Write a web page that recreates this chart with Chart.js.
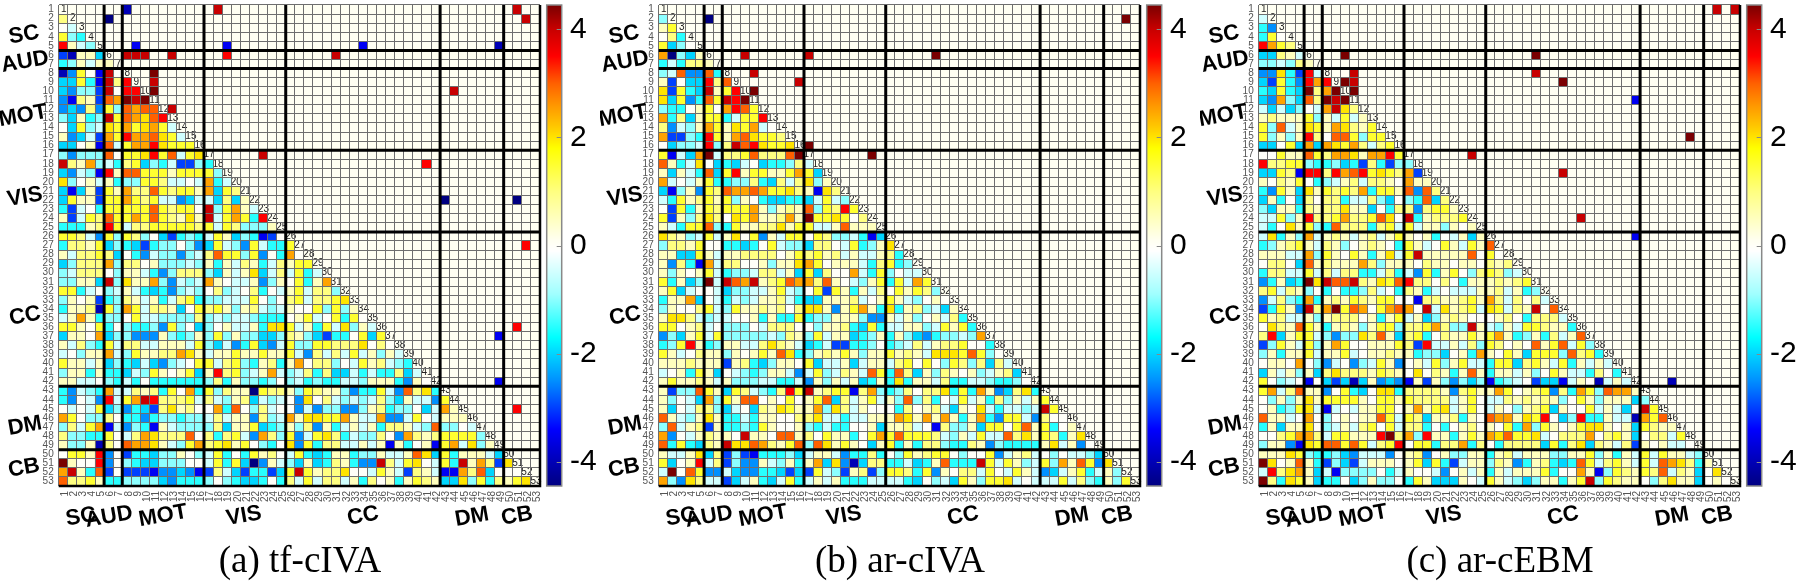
<!DOCTYPE html>
<html>
<head>
<meta charset="utf-8">
<title>Component correlation maps</title>
<script src="https://cdn.jsdelivr.net/npm/chart.js@4"></script>
<style>
  html, body { margin: 0; background: #fff; }
  canvas { position: absolute; top: 0; }
</style>
</head>
<body>
<canvas id="tfIva" width="600" height="581" style="left:0"></canvas>
<canvas id="arIva" width="600" height="581" style="left:600px"></canvas>
<canvas id="arEbm" width="600" height="581" style="left:1200px"></canvas>
<script>
// component numbers on both axes
var componentLabels = ["1","2","3","4","5","6","7","8","9","10","11","12","13","14","15","16","17","18","19","20","21","22","23","24","25","26","27","28","29","30","31","32","33","34","35","36","37","38","39","40","41","42","43","44","45","46","47","48","49","50","51","52","53"];
var colorbarTicks = [-4, -2, 0, 2, 4];
// a thick line follows each of these components
var groupBreaks = [5, 7, 16, 25, 42, 49];
var groupNames = ["SC", "AUD", "MOT", "VIS", "CC", "DM", "CB"];
var captions = ["(a) tf-cIVA", "(b) ar-cIVA", "(c) ar-cEBM"];

// lower triangle, row by row, in steps of 0.5
var tfIvaRows = [
[],
[2],
[0,-1],
[3,-2,-3],
[7,1,-1,-2],
[-6,-8,1,1,-4],
[-3,-2,1,-1,1,1],
[-8,-5,3,0,-7,8,0],
[-4,-4,3,-3,-7,8,2,7],
[-4,-5,-2,-2,-6,8,0,7,7],
[-5,-7,2,1,-6,6,5,9,8,9],
[-5,-4,-5,2,-5,3,-2,6,5,6,6],
[-2,-4,1,-3,-2,8,3,6,5,4,6,7],
[0,-4,3,-2,-1,4,3,5,3,4,5,3,-1],
[1,-5,-4,-1,-6,5,3,7,5,5,6,4,3,-1],
[-4,-4,0,1,-7,6,-1,3,5,5,7,4,3,3,3],
[-2,-5,-2,-2,-2,6,0,3,3,4,7,3,6,-1,3,4],
[8,2,1,5,-2,-1,-3,2,3,-4,-2,-3,-1,-6,-6,-2,-3],
[-4,-5,-1,-2,-7,7,1,6,6,3,3,3,1,3,3,3,3,-2],
[4,-2,0,1,-1,1,-3,-2,-2,3,3,2,-1,-1,0,-1,5,-3,-1],
[-4,-7,-4,1,-6,3,1,5,2,2,6,3,2,3,3,1,5,-4,3,2],
[-4,3,1,1,-6,3,3,5,3,2,3,-1,-1,-5,-4,-1,-1,-4,2,-4,1],
[-3,-6,-1,0,-3,3,3,3,3,3,6,3,2,3,3,0,8,-2,3,5,1,-1],
[1,-6,-1,3,2,6,3,3,5,3,6,3,2,1,4,1,8,-1,3,5,3,-3,7],
[-3,-3,-3,1,2,7,3,-1,2,2,3,3,3,3,3,2,3,-1,3,2,-2,-2,-2,1],
[3,3,2,-1,-5,3,-2,3,2,-2,0,-4,-6,-3,-2,-3,-1,3,1,-4,-2,-3,-7,-6,0],
[-3,2,2,1,3,-4,-2,-3,-4,-6,-3,-2,-2,0,-2,-5,-4,3,-1,-2,-5,3,-1,-3,-3,3],
[1,-1,2,2,3,2,-4,0,-3,-5,-1,-2,-2,-5,-2,-1,2,6,3,3,-2,3,-5,0,-3,5,0],
[-4,-2,2,2,2,5,-2,2,2,0,1,-2,-2,-2,-1,-2,1,-3,1,-1,2,1,-3,-1,2,1,3,3],
[-2,-1,2,2,2,0,-2,1,1,-1,-3,-5,-2,2,2,2,-2,-4,1,-1,1,4,-4,-1,2,-1,3,-3,-1],
[-2,-2,1,1,-4,8,-2,4,1,1,5,-2,-5,-1,-2,-1,5,1,0,-1,-1,1,-5,-2,1,0,3,-3,1,5],
[3,3,-3,-1,0,-2,-1,1,-1,-3,-4,-3,-5,-2,-1,-2,0,2,-2,-1,0,2,-3,0,-1,1,3,-1,2,2,-2],
[-2,1,0,1,-6,-3,-2,2,1,-1,1,-3,-1,2,3,-3,-2,-2,-1,-1,-1,3,0,-2,0,2,3,-1,2,2,3,4],
[-3,1,1,2,-8,3,-2,5,3,-1,2,2,1,-4,0,3,2,3,1,-2,1,2,-1,-2,-1,1,0,0,3,-2,3,-2,1],
[-1,1,5,1,-3,-2,-2,0,3,-1,-1,-2,-2,-2,-2,2,-2,-1,-2,-1,-1,-2,-3,-3,-3,0,1,3,-1,0,3,-3,3,0],
[3,3,1,0,3,-3,0,-2,-3,-3,-2,-5,3,-2,0,-4,-2,0,1,-1,-1,1,-3,4,4,3,-1,1,-3,3,-1,4,-2,1,-1],
[-4,1,1,0,5,-4,-2,-2,-5,-5,-5,1,-2,-3,-2,1,-2,3,-2,1,-2,-2,-4,-4,-2,2,1,-2,-4,-6,-3,-3,0,3,-4,3],
[1,-1,2,-2,-3,3,-1,2,2,-1,-1,1,1,1,-1,3,-2,-4,-1,-5,-3,3,-4,-5,-1,3,-2,-2,3,3,2,2,2,4,0,2,0],
[-1,0,-2,1,1,5,-1,-2,3,1,1,2,2,5,4,1,-1,1,1,3,1,1,3,1,1,3,-1,-5,2,-1,2,-1,3,-1,1,-2,1,-1],
[3,1,1,-1,1,-4,-2,-3,-4,-1,-4,-5,-2,-1,0,3,3,-1,2,3,-2,-3,1,2,-3,1,5,0,2,2,-2,0,-1,3,1,2,-1,-2,-3],
[-2,1,1,-3,1,-3,-3,-4,-1,-2,3,1,0,1,3,-4,1,7,2,3,-2,-1,1,5,-1,-2,-1,2,-3,2,-4,-4,-1,-3,-1,-3,-3,2,-4,-1],
[1,1,-1,-1,0,-2,-3,-1,-3,0,-3,-3,-3,-3,-3,-3,-2,2,-3,1,-2,-2,-3,-2,0,-2,-1,-3,-2,-3,-3,-1,-1,-2,1,1,1,-3,-5,1,0],
[-3,-5,-1,-2,-3,5,-1,-1,2,1,2,-3,3,0,5,-3,3,-2,2,1,1,-9,3,2,2,1,-2,3,2,1,1,-2,-5,-3,-3,3,-1,-5,6,2,4,-3],
[-3,-5,0,-1,-5,7,-1,3,5,8,7,2,2,2,3,-1,2,-1,-2,1,2,-4,-1,-2,-1,0,-5,4,0,2,-1,-2,-1,-2,-1,2,-2,-4,1,-1,-1,-5,3],
[0,-1,0,-1,3,-4,-2,-5,-3,-4,-6,2,4,1,2,0,0,5,-3,6,0,-2,2,-1,0,0,-5,-1,-5,-2,-2,-5,-5,-2,1,2,-3,-2,-2,0,-4,-1,5,1],
[5,3,0,-2,-2,2,0,-3,-3,-5,-3,-2,-2,-3,-2,-2,-1,2,-1,1,1,-5,2,-2,-1,5,1,4,4,3,3,5,1,-1,-1,5,-5,-5,-1,3,0,-1,1,1,1],
[-2,2,-1,3,5,-7,-1,-5,-2,-3,-7,1,-1,-2,-2,-2,-2,2,-4,1,1,3,-4,-3,-2,1,-2,2,-5,1,-3,-1,1,-1,1,-3,2,2,1,-1,-2,6,-2,-2,0,-1],
[2,-2,-2,-3,-3,3,0,-1,2,5,4,2,2,2,6,0,2,-3,2,3,-1,-5,5,2,-2,3,-5,-1,3,4,2,-3,-1,-2,-2,2,0,-5,5,2,1,2,3,3,3,3,-2],
[1,-2,-2,1,-8,2,0,6,5,5,4,1,-1,-2,3,5,2,3,4,1,3,0,-2,-3,0,4,-5,3,-3,2,2,-1,-1,1,-1,1,-7,1,-3,0,1,-7,3,5,-1,4,-2,1],
[0,3,3,1,7,-5,0,-6,-3,-3,-4,-2,-2,1,0,-2,-1,3,-3,0,-3,3,1,2,0,-1,3,-3,-4,-3,1,1,-3,-2,-2,1,-1,-1,1,6,4,-4,3,-3,1,1,1,-1,-4],
[9,1,0,0,7,-5,0,-2,-3,-4,-4,-2,-2,-2,0,0,-1,3,-3,3,-4,-9,-5,1,-1,-2,-4,1,-4,-3,2,1,-3,-5,-5,8,2,-1,3,4,0,-1,3,-3,8,1,5,2,-6,4],
[5,8,1,-3,6,-6,0,-6,-6,-6,-7,-5,-5,-4,-5,-7,-6,2,-1,-4,-6,-3,-3,-6,-4,3,8,3,1,2,2,4,0,0,-1,3,1,-1,-6,2,1,-1,-7,-7,5,2,6,-4,0,0,0],
[6,2,2,3,1,-3,-3,-2,-2,-2,-2,-4,-5,-3,-3,-3,-2,0,-2,-3,-4,-4,-3,0,-3,2,-1,3,-1,2,2,-1,1,-3,2,0,1,-3,1,3,2,1,-4,-4,4,-2,3,-3,2,1,3,4]
];
// significant cells above the diagonal: row, column, value in steps of 0.5
var tfIvaUpper = [[1,8,-8],[1,18,8],[1,51,8],[2,6,-9],[2,52,8],[5,9,-7],[5,19,-7],[5,34,-7],[5,49,-8],[6,8,8],[6,9,8],[6,10,8],[6,13,8],[6,19,7],[6,31,8],[8,11,9],[9,11,8],[10,11,9],[10,44,8],[12,13,8],[17,23,8],[18,41,7],[22,43,-9],[22,51,-9],[27,52,7],[36,51,7],[37,49,-7],[42,49,-7],[45,51,7]];

var arIvaRows = [
[],
[-2],
[1,3],
[0,2,-3],
[3,-4,-2,0],
[5,-9,-2,-4,1],
[-3,-1,-3,2,2,1],
[-2,-1,6,-5,-5,6,-3],
[1,-6,0,-4,-4,7,2,6],
[4,-6,3,-3,-4,8,1,3,7],
[4,-4,3,-5,-3,6,3,8,7,9],
[-2,-3,-3,0,1,3,0,5,7,6,3],
[5,-3,2,-4,1,3,3,-3,-1,3,3,7],
[2,-5,-1,-2,1,5,3,1,4,3,5,-1,0],
[5,-6,-6,-2,-3,7,3,1,5,6,4,3,3,2],
[0,-4,-2,-2,-1,7,-2,2,8,6,7,4,3,3,4],
[3,-7,-1,-4,5,9,-1,2,2,3,6,2,2,2,6,9],
[6,1,-3,-1,4,0,-4,-3,-4,-1,0,-4,-3,-3,-2,2,-1],
[1,-4,1,-1,-3,6,-4,3,7,1,3,3,1,1,3,5,3,-4],
[5,-1,0,-1,1,3,-3,-3,-2,-2,2,-3,-4,2,-1,2,4,-2,1],
[-4,-7,-2,1,-5,3,2,6,5,5,6,5,3,3,4,2,1,-7,4,2],
[-1,-3,3,1,2,3,1,3,-2,1,0,-3,-4,-4,-3,-3,-4,-1,3,-1,-2],
[0,-6,3,-3,1,3,2,3,3,3,5,1,-2,1,2,1,6,-2,3,2,7,3],
[3,-6,1,-2,2,4,2,0,4,3,5,1,1,2,5,1,9,3,3,4,3,0,2],
[1,-1,-3,3,3,6,-2,-3,3,1,1,2,2,4,1,3,3,-1,-1,1,6,1,1,1],
[4,2,1,-2,-1,3,-1,1,4,0,3,-5,1,-1,3,3,0,3,2,-2,-2,-1,-3,-7,-4],
[-2,2,2,1,3,0,0,-3,-3,-4,-3,0,3,-1,-2,-2,-4,2,2,0,-1,3,-3,-2,1,4],
[1,1,-4,-4,3,1,-1,1,1,2,2,2,2,0,1,3,2,3,1,2,-1,1,-1,-1,1,2,-3],
[1,-5,2,-3,-7,5,-1,2,2,0,0,1,-2,1,1,4,5,3,0,1,1,1,-1,-3,2,3,-3,-2],
[1,-2,1,0,1,3,-1,-3,-2,-2,-1,2,2,-1,1,-4,3,-4,2,0,0,5,-1,-3,3,-2,0,-1,-1],
[3,-3,1,-4,-2,9,-1,8,6,5,8,1,2,3,6,5,5,2,6,1,0,-1,-2,1,3,-3,3,-1,5,3],
[1,3,-4,-1,0,0,-1,-4,-2,-2,-1,-1,1,3,-1,-2,0,3,-6,3,1,-3,1,-1,2,0,3,1,3,2,-2],
[-3,1,1,5,-4,0,-1,-3,-1,-2,-1,1,1,2,-1,-3,-4,-4,1,1,1,2,-1,0,1,3,1,-1,-2,0,1,0],
[-2,1,0,0,2,3,-1,-2,3,1,1,2,1,2,0,2,4,4,1,-5,1,3,5,1,-3,4,-3,1,2,-2,-1,-4,1],
[1,4,4,2,-1,-2,-1,-1,0,0,1,-3,1,-3,-3,3,-3,-2,-2,1,1,1,-2,-5,-5,1,-1,1,-2,0,1,-1,2,-3],
[3,3,0,1,2,-1,0,-2,-2,-2,0,-1,2,2,2,0,0,-2,1,1,2,-3,-4,3,-3,-1,-1,1,1,-2,-1,3,1,3,-3],
[-5,-2,-4,1,3,-1,3,-2,-2,-2,-2,-2,-1,-2,2,1,-2,3,-1,1,1,-4,-3,-2,1,-3,1,-2,-4,-5,-3,-2,-2,-1,-2,5],
[-3,-2,3,7,1,-3,-2,1,1,-1,-1,2,4,2,1,-1,-4,-3,-1,-6,-6,-3,-3,-2,0,-3,-2,-1,2,-1,1,2,2,3,0,0,-3],
[3,1,-1,0,2,1,1,-2,1,0,1,3,1,6,4,-3,-2,1,2,1,3,1,-2,1,1,3,1,2,1,-1,4,4,4,3,6,3,-2,0],
[1,1,1,2,1,1,1,-6,1,2,-3,-4,-2,1,1,0,3,-4,-1,-1,1,-4,-1,1,1,-1,2,3,0,3,0,-2,3,2,-2,2,-4,2,-1],
[-1,0,1,-3,3,1,-4,0,-1,-2,-3,-2,1,1,-1,-5,-1,3,-2,-1,2,1,-1,6,3,-3,6,2,-4,1,-2,2,1,0,1,-2,-1,1,2,-4],
[1,3,1,1,2,1,-1,1,-2,-2,-2,-1,-1,-3,-3,-1,-5,1,-2,1,-1,1,-4,-3,1,-3,4,-3,1,1,-1,2,-3,-3,-1,-1,-2,-3,-3,-2,0],
[1,-6,-2,-2,6,3,1,-4,3,2,-1,-2,-3,2,7,3,8,1,2,3,3,-7,2,5,-2,-3,-2,2,0,2,2,4,-3,3,-3,5,1,-5,-4,2,4,-3],
[1,-2,0,-1,-4,5,-2,3,1,6,6,0,1,0,3,0,1,3,6,-4,2,-1,1,3,-1,1,-2,6,-2,2,-3,0,-1,3,-1,1,-3,2,-2,1,-1,1,3],
[1,-4,0,-1,2,2,-2,-4,-1,0,-4,2,1,4,3,1,1,5,-2,4,2,-1,1,0,0,0,-3,2,0,1,2,-1,-4,1,0,4,-1,-3,-1,-1,-2,-1,8,3],
[6,1,-1,-2,1,4,1,-3,-3,-1,-3,1,1,0,0,2,2,4,-1,-1,-3,-1,-1,1,1,1,5,4,1,5,1,5,1,-3,1,5,-3,-5,3,3,-1,-5,2,0,0],
[-2,6,-1,1,2,-6,1,-3,-3,-2,-3,3,1,0,0,1,-2,-3,-1,-3,-3,0,0,1,-4,1,1,2,-1,0,-7,2,-2,-2,1,-4,3,3,0,3,6,1,3,-3,0,1],
[5,-5,0,-1,1,2,1,1,0,8,1,1,0,6,6,1,2,0,3,1,1,-3,0,3,5,3,6,3,3,3,2,-1,-2,1,-1,3,-1,-1,6,2,4,1,3,2,-3,1,4],
[6,-3,3,-3,-4,2,1,8,4,4,6,5,2,1,3,6,-2,6,4,1,3,1,0,-4,1,3,-3,1,-3,2,2,-2,-3,-3,2,1,-5,-2,-3,-3,-3,-3,1,4,-1,1,-5,0],
[1,-1,-1,1,4,-4,2,-6,-2,-6,-7,-3,-3,-3,-2,-4,-1,1,1,-1,-5,-3,-3,2,-3,0,-2,3,1,2,3,3,0,-2,0,0,3,-5,-1,1,2,-1,0,-2,0,-1,-1,-2,-4],
[3,-4,0,1,7,-1,2,-6,-2,-5,-5,1,-1,-2,1,-3,1,5,-4,4,-5,-8,-4,2,2,-3,-3,-1,-4,-3,1,6,-3,-3,-3,8,3,-1,3,1,-2,-1,3,-2,5,1,6,3,-5,4],
[-1,9,0,6,3,-5,-5,-1,-4,-5,-5,-3,-3,-4,-6,-4,-6,3,-1,-2,-6,1,2,-6,-2,3,3,2,-3,3,-5,1,0,2,2,-1,3,0,-1,3,1,-1,-5,-4,-1,1,3,-3,-1,1,-2],
[5,-2,-5,4,2,-1,-1,-6,-4,-1,1,-3,-4,-1,3,-3,-1,1,-1,1,-3,-3,-3,-1,-1,-1,-1,-3,-4,0,-2,-1,-4,3,1,-2,3,3,4,-1,0,-1,-1,-1,3,-1,2,-2,-3,1,-2,3]
];
var arIvaUpper = [[2,6,-9],[2,52,9],[6,10,8],[6,17,8],[6,31,9],[8,11,8],[9,16,8],[10,11,9],[16,17,9],[17,24,9]];

var arEbmRows = [
[],
[-1],
[-3,-5],
[-3,3,0],
[7,5,3,2],
[-4,-4,2,1,-1],
[-2,-2,-1,-2,2,1],
[-5,-5,4,-3,-6,7,-1],
[-4,-6,3,-3,-5,7,5,7],
[-3,-4,3,-3,-4,9,2,5,9],
[-4,-5,5,-2,-4,6,2,9,8,9],
[-1,-4,-1,-4,-2,0,-1,5,8,4,2],
[1,2,1,1,1,3,-2,1,-1,3,-1,1],
[3,-2,6,-1,1,4,3,1,5,4,2,1,3],
[3,-2,1,-2,1,7,2,0,6,6,3,-2,3,3],
[-4,-4,0,3,-4,5,-4,5,4,3,5,2,-1,2,3],
[0,0,3,1,1,6,3,2,5,5,4,1,5,5,7,3],
[7,2,2,3,3,-2,-3,-3,-2,-4,-3,-6,2,-3,-6,-2,-2],
[-4,-4,3,2,-7,7,7,2,7,5,6,7,3,4,3,2,5,-6],
[1,0,2,1,3,0,-3,-2,-1,1,2,-1,2,2,1,0,5,1,1],
[-3,-5,3,1,-4,4,1,3,2,3,2,5,-3,3,3,1,6,-5,6,2],
[-4,1,-3,0,-4,2,0,2,2,-3,-1,-1,2,-2,-4,0,-2,-3,6,-4,2],
[-2,-4,1,1,-3,2,1,2,2,4,1,1,-4,0,-3,2,2,-5,2,3,3,1],
[-1,-1,3,-2,1,7,2,2,3,5,2,2,3,6,4,0,8,-3,1,2,2,2,3],
[-1,-3,0,4,1,3,-2,-3,6,2,2,2,-3,2,3,-1,3,-1,1,1,-2,1,0,1],
[-1,4,-3,1,-2,5,-1,1,2,1,-1,1,2,-1,1,3,1,0,1,-3,0,-1,1,-4,1],
[-3,-2,1,2,3,1,-1,2,1,-2,0,1,2,1,0,-3,3,1,-1,0,3,1,-1,3,1,6],
[1,1,1,-1,-1,5,-2,3,1,0,3,1,-3,1,4,-1,3,8,1,1,1,1,1,6,0,3,0],
[0,2,2,0,-4,6,1,2,1,1,1,5,2,-2,1,1,1,0,2,1,1,0,1,1,0,2,1,2],
[-3,2,2,-1,-1,3,-1,2,-1,2,2,-3,-3,-1,2,-3,-1,-5,3,-3,1,3,0,-2,2,3,2,-2,-1],
[-5,-3,1,-4,-3,9,4,8,6,6,8,2,1,4,3,6,7,2,2,0,2,0,-3,1,1,1,2,1,2,3],
[2,3,-1,2,1,-2,0,-3,0,-3,-3,-2,2,-1,0,-3,2,1,-3,-1,0,-1,-1,-1,1,1,2,-1,1,-3,-2],
[-5,-1,2,-2,-3,5,-3,1,2,1,3,2,1,3,3,0,0,-7,2,2,1,1,2,3,1,5,2,-1,2,0,2,-1],
[-6,-3,3,1,-5,8,2,5,9,3,6,5,0,3,5,6,5,0,8,-1,4,1,2,3,-1,4,3,-1,2,1,8,0,6],
[3,1,2,-1,-1,1,-2,1,2,2,2,0,1,-3,1,3,-1,1,-4,-2,1,2,1,0,0,0,1,2,0,-3,2,2,2,-1],
[0,4,2,1,6,3,1,-3,1,2,1,-2,1,3,3,-2,2,2,3,5,2,-2,-2,8,1,-1,-2,1,-1,3,3,2,1,1,-3],
[2,7,-4,1,3,3,-1,-2,-5,-2,-2,4,2,6,1,-4,2,3,-3,0,2,1,1,3,1,3,5,1,-3,-2,1,-3,2,-1,1,6],
[-6,-2,3,1,-1,3,-2,1,5,3,0,0,1,1,1,3,2,-6,7,-1,-1,1,-1,2,-2,3,2,0,1,0,6,1,3,6,-1,3,-2],
[-2,1,-3,1,1,3,-1,1,1,3,-1,0,1,1,2,1,1,-3,-2,-2,-4,0,1,-3,5,1,0,3,1,-4,3,3,3,-2,6,2,3,-3],
[0,1,1,0,5,0,-2,-5,-1,0,-5,-2,-1,3,1,-5,0,1,-1,3,-2,1,3,-1,-1,-3,3,3,-4,2,3,1,-1,3,-3,1,-1,1,-1],
[-4,1,-1,1,-2,1,-4,2,4,2,2,2,1,3,2,1,0,4,0,2,1,-3,1,6,1,-3,1,1,-1,1,-2,0,3,1,-1,-1,-3,2,0,-3],
[3,0,-2,-1,0,-7,0,-4,-6,-4,-8,-4,1,-5,-4,-5,-7,1,-6,1,-2,-5,-2,-4,-2,-7,-3,-2,-1,0,-6,-4,-4,-7,-1,1,0,-8,-1,1,-1],
[3,5,-1,2,6,1,1,-5,0,3,-3,-4,0,4,4,-3,2,2,2,2,1,-5,2,3,1,1,5,3,0,1,2,3,-5,2,-3,5,3,-2,6,5,5,1],
[0,-2,1,-2,1,4,1,3,3,3,3,1,0,3,3,1,3,2,2,2,2,-1,1,3,0,-1,-1,2,1,2,1,2,1,-2,0,3,1,-2,1,1,1,-4,-2],
[0,1,-3,-2,3,4,-1,-7,-1,0,-1,1,1,3,3,0,1,5,1,3,4,-1,1,3,0,-1,1,0,-2,1,2,3,-4,1,0,0,3,-1,1,-1,-4,0,8,3],
[6,1,1,-1,0,5,0,-2,0,1,0,1,1,6,3,-1,3,2,-4,1,1,2,-3,1,0,6,5,5,1,4,3,7,0,-4,-2,7,-3,-3,1,-1,-1,-8,5,3,6],
[-3,1,-4,1,1,4,0,-2,-1,1,-1,2,3,0,3,-1,2,2,-3,0,-3,0,1,2,0,1,0,3,-3,5,-2,3,1,0,1,3,4,4,1,0,1,-4,3,2,1,1],
[0,0,2,3,5,5,2,-1,3,3,1,1,1,7,9,2,5,-2,7,1,1,-3,1,3,1,5,4,6,3,3,4,-1,0,2,2,2,5,0,2,3,1,-4,0,2,2,-1,3],
[-2,1,1,-5,-7,4,3,6,6,3,6,3,-1,2,3,7,0,3,3,-3,2,2,5,-3,2,0,-3,2,2,2,2,-4,3,-3,2,4,-4,2,1,-1,2,-6,1,0,1,-1,-1,0],
[1,1,1,4,3,-2,-3,-3,-2,-4,-5,-1,-1,-1,-5,0,1,2,-5,0,1,-2,-2,1,1,-3,1,2,-1,1,1,1,-2,-2,1,1,3,-2,1,-3,1,-1,3,-1,3,1,1,-1,-2],
[9,4,0,1,6,1,-3,-6,-2,-4,-6,-1,1,1,1,0,1,3,-4,3,-3,-6,-1,1,1,-2,2,1,-5,-3,1,2,-3,-4,-3,6,3,-1,2,3,1,-1,3,-1,6,5,4,2,-3,1],
[-1,7,2,4,5,1,-4,-1,-7,-2,-2,-2,-2,0,-3,-1,1,0,0,-1,-5,0,1,-1,1,-3,1,-1,1,1,1,3,-3,0,0,5,1,-7,-2,3,2,1,3,2,6,-1,2,1,-4,0,4],
[9,2,-3,4,3,1,-4,-3,-3,0,-4,-2,1,-2,-2,0,-3,3,1,-4,-4,-4,1,0,-1,3,1,-1,-2,-4,-2,1,1,-3,1,3,8,-2,3,2,1,1,0,-2,2,4,1,1,-4,0,1,0]
];
var arEbmUpper = [[1,51,8],[1,53,8],[6,10,9],[6,31,9],[8,11,8],[8,31,8],[9,10,9],[9,11,8],[9,34,9],[10,11,9],[11,42,-7],[15,48,9],[17,24,8],[19,34,8],[24,36,8],[26,42,-7],[42,46,-8]];

// colour scale: value, r, g, b
var colorStops = [
    [-4.45, 0, 0, 128], [-3.4, 0, 0, 255], [-2.5, 0, 144, 255], [-1.7, 0, 255, 255],
    [-0.9, 160, 255, 255], [-0.1, 255, 255, 255], [0.1, 255, 255, 240], [1.0, 255, 255, 128],
    [1.8, 255, 255, 0], [2.2, 255, 200, 0], [2.6, 255, 150, 0], [3.0, 255, 96, 0],
    [3.5, 255, 0, 0], [4.0, 200, 0, 0], [4.45, 122, 0, 0]
];

function heatColor(v) {
    var last = colorStops.length - 1;
    if (v <= colorStops[0][0]) return "rgb(0,0,128)";
    if (v >= colorStops[last][0]) return "rgb(122,0,0)";
    for (var i = 0; i < last; i++) {
        var a = colorStops[i], b = colorStops[i + 1];
        if (v <= b[0]) {
            var t = (v - a[0]) / (b[0] - a[0]);
            return "rgb(" + Math.round(a[1] + t * (b[1] - a[1])) + "," + Math.round(a[2] + t * (b[2] - a[2])) + "," + Math.round(a[3] + t * (b[3] - a[3])) + ")";
        }
    }
}

function buildCells(rows, upper) {
    var cells = [];
    rows.forEach(function (vals, r) {
        vals.forEach(function (v, c) {
            cells.push({ x: componentLabels[c], y: componentLabels[r], v: v / 2 });
        });
    });
    upper.forEach(function (u) {
        cells.push({ x: componentLabels[u[1] - 1], y: componentLabels[u[0] - 1], v: u[2] / 2 });
    });
    return cells;
}

// group name placement around each map: centre x, centre y
var sideNameSpots = [[24, 35], [25, 62], [23, 116], [25, 197], [25, 316], [25, 426], [24, 468]];
var bottomNameSpots = [[81, 517], [109, 517], [163, 516], [244, 516], [363, 516], [472, 517], [517, 516]];

var panelExtras = {
    id: "panelExtras",
    beforeDraw: function (chart) {
        var a = chart.chartArea, ctx = chart.ctx;
        ctx.save();
        ctx.fillStyle = "#fffff2";
        ctx.fillRect(a.left, a.top, a.width, a.height);
        ctx.restore();
    },
    // numbers on the diagonal sit under the grid and the thick lines
    afterDatasetsDraw: function (chart) {
        var ctx = chart.ctx, x = chart.scales.x, y = chart.scales.y;
        ctx.save();
        ctx.font = "10px 'Liberation Sans'";
        ctx.fillStyle = "#222";
        ctx.textAlign = "center";
        ctx.textBaseline = "middle";
        componentLabels.forEach(function (label, i) {
            ctx.fillText(label, x.getPixelForTick(i) + 0.5, y.getPixelForTick(i));
        });
        ctx.restore();
    },
    afterDraw: function (chart) {
        var ctx = chart.ctx, a = chart.chartArea, x = chart.scales.x, y = chart.scales.y, bar = chart.scales.bar;
        var half = x.width / componentLabels.length / 2;
        ctx.save();

        // group separators
        ctx.strokeStyle = "#000";
        ctx.lineWidth = 3;
        groupBreaks.forEach(function (b) {
            var px = x.getPixelForTick(b - 1) + half;
            var py = y.getPixelForTick(b - 1) + half;
            ctx.beginPath();
            ctx.moveTo(px, a.top);
            ctx.lineTo(px, a.bottom);
            ctx.moveTo(a.left, py);
            ctx.lineTo(a.right, py);
            ctx.stroke();
        });

        // right and bottom frame edges
        ctx.lineWidth = 2.5;
        ctx.beginPath();
        ctx.moveTo(a.right, a.top);
        ctx.lineTo(a.right, a.bottom);
        ctx.lineTo(a.left, a.bottom);
        ctx.stroke();

        // colour bar, one pixel row at a time from its own scale
        var barLeft = a.right + 6.7, barWidth = 15;
        for (var py = Math.floor(a.top); py < a.bottom; py++) {
            ctx.fillStyle = heatColor(bar.getValueForPixel(py + 0.5));
            ctx.fillRect(barLeft, py, barWidth, 1);
        }
        ctx.strokeStyle = "#888";
        ctx.lineWidth = 1.5;
        ctx.strokeRect(barLeft, a.top, barWidth, a.height);
        ctx.lineWidth = 1;
        colorbarTicks.forEach(function (t) {
            var py = Math.round(bar.getPixelForValue(t)) + 0.5;
            ctx.beginPath();
            ctx.moveTo(barLeft + barWidth - 5, py);
            ctx.lineTo(barLeft + barWidth, py);
            ctx.stroke();
        });

        // group names, slightly tilted
        ctx.font = "bold 22px 'Liberation Sans'";
        ctx.fillStyle = "#000";
        ctx.textAlign = "center";
        ctx.textBaseline = "middle";
        groupNames.forEach(function (name, i) {
            [sideNameSpots[i], bottomNameSpots[i]].forEach(function (p) {
                ctx.save();
                ctx.translate(p[0], p[1]);
                ctx.rotate(-10 * Math.PI / 180);
                ctx.fillText(name, 0, 0);
                ctx.restore();
            });
        });
        ctx.restore();
    }
};

function dropPadding(scale) {
    scale.paddingTop = scale.paddingBottom = scale.paddingLeft = scale.paddingRight = 0;
}

function createPanel(canvasId, caption, rows, upper) {
    var tickFont = { family: "'Liberation Sans'", size: 10 };
    var gridStyle = { offset: true, color: "#6e6e6e", lineWidth: 1, z: 1, drawTicks: false };

    new Chart(document.getElementById(canvasId).getContext("2d"), {
        type: "scatter",
        data: {
            datasets: [{
                data: buildCells(rows, upper),
                pointStyle: "rect",
                pointRadius: function (c) { return c.chart.scales.x.width / componentLabels.length * Math.SQRT1_2 + 0.1; },
                pointBorderWidth: 0,
                pointBackgroundColor: function (c) { return heatColor(c.raw.v); }
            }]
        },
        options: {
            responsive: false,
            animation: false,
            events: [],
            layout: { padding: { top: 5 } },
            plugins: {
                legend: { display: false },
                tooltip: { enabled: false },
                title: {
                    display: true,
                    text: caption,
                    position: "bottom",
                    color: "#000",
                    padding: 0,
                    font: { family: "'Liberation Serif'", size: 37, weight: "normal", lineHeight: 1 }
                }
            },
            scales: {
                x: {
                    type: "category",
                    labels: componentLabels,
                    offset: true,
                    grid: gridStyle,
                    border: { display: false },
                    ticks: { autoSkip: false, minRotation: 90, maxRotation: 90, padding: 5, labelOffset: 2, color: "#555", font: tickFont },
                    afterFit: function (s) { s.height = 58; dropPadding(s); }
                },
                y: {
                    type: "category",
                    labels: componentLabels,
                    offset: true,
                    grid: gridStyle,
                    border: { display: false },
                    ticks: { autoSkip: false, padding: 5, color: "#555", font: tickFont },
                    afterFit: function (s) { s.width = 58.7; dropPadding(s); }
                },
                bar: {
                    type: "linear",
                    position: "right",
                    min: -4.45,
                    max: 4.45,
                    grid: { display: false, drawTicks: false },
                    border: { display: false },
                    ticks: { autoSkip: false, padding: 30, color: "#000", font: { family: "'Liberation Sans'", size: 30 } },
                    afterBuildTicks: function (s) { s.ticks = colorbarTicks.map(function (v) { return { value: v }; }); },
                    afterFit: function (s) { s.width = 60; dropPadding(s); }
                }
            }
        },
        plugins: [panelExtras]
    });
}

createPanel("tfIva", captions[0], tfIvaRows, tfIvaUpper);
createPanel("arIva", captions[1], arIvaRows, arIvaUpper);
createPanel("arEbm", captions[2], arEbmRows, arEbmUpper);
</script>
</body>
</html>
